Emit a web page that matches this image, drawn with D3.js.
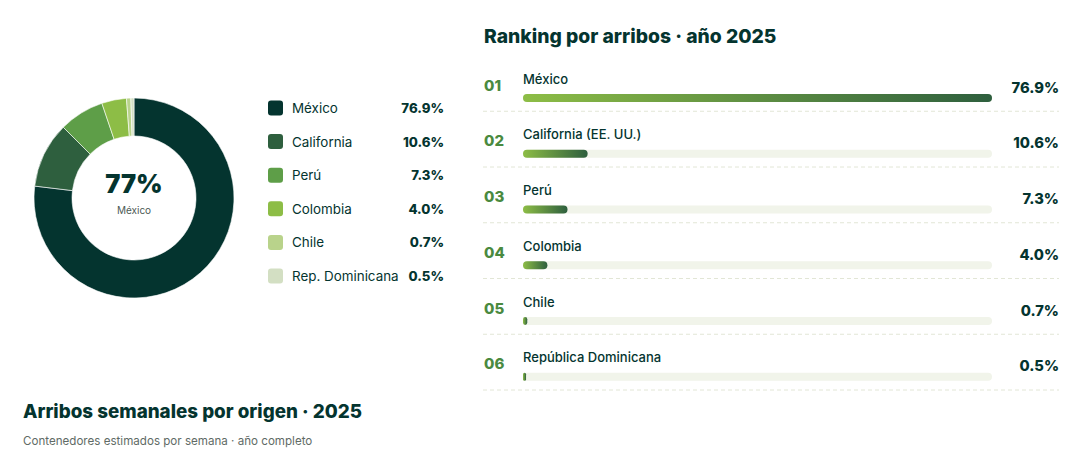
<!DOCTYPE html>
<html>
<head>
<meta charset="utf-8">
<script src="https://cdn.jsdelivr.net/npm/d3@7"></script>
<style>
body { margin: 0; background: #fff; }
svg { display: block; font-family: Inter, "Noto Sans", sans-serif; }
</style>
</head>
<body>
<div id="drawing"></div>
<script>
"use strict"

/**** DATA ****/
let origins = ["México", "California", "Perú", "Colombia", "Chile", "Rep. Dominicana"]
let rankNames = ["México", "California (EE. UU.)", "Perú", "Colombia", "Chile", "República Dominicana"]
let shares = [76.9, 10.6, 7.3, 4.0, 0.7, 0.5]
let sliceColors = ["#04342f", "#2e5f3e", "#5e9e48", "#8dbd46", "#b9d38b", "#d3dfc3"]

/**** CANVAS ****/
let svgWidth = 1092
let svgHeight = 456

let svg = d3.select("#drawing")
.append("svg")
.attr("width", svgWidth)
.attr("height", svgHeight)

let dark = "#04342f"

/**** DONUT ****/
let cx = 134, cy = 198
let pie = d3.pie().sort(null).value(d => d)
let arc = d3.arc().innerRadius(62).outerRadius(100)

let donut = svg.append("g").attr("transform", `translate(${cx},${cy})`)

donut.selectAll("path")
.data(pie(shares))
.join("path")
.attr("d", arc)
.attr("fill", (d, i) => sliceColors[i])
.attr("stroke", "#fff")
.attr("stroke-width", 0.6)

donut.append("text")
.attr("y", -5)
.attr("text-anchor", "middle")
.attr("font-size", 25.5)
.attr("font-weight", 900)
.attr("fill", dark)
.text(Math.round(shares[0]) + "%")

donut.append("text")
.attr("y", 16)
.attr("text-anchor", "middle")
.attr("font-size", 10)
.attr("fill", "#4d5a55")
.text(origins[0])

/**** LEGEND ****/
let legendY = d3.scalePoint()
.domain(origins)
.range([108, 276])

let legend = svg.append("g")

legend.selectAll("rect")
.data(origins)
.join("rect")
.attr("x", 268)
.attr("y", d => legendY(d) - 7.5)
.attr("width", 15)
.attr("height", 15)
.attr("rx", 3)
.attr("fill", (d, i) => sliceColors[i])

legend.selectAll("text.lab")
.data(origins)
.join("text")
.attr("class", "lab")
.attr("x", 292)
.attr("y", d => legendY(d) + 5)
.attr("font-size", 13.4)
.attr("fill", dark)
.text(d => d)

legend.selectAll("text.val")
.data(origins)
.join("text")
.attr("class", "val")
.attr("x", 444)
.attr("y", d => legendY(d) + 5)
.attr("text-anchor", "end")
.attr("font-size", 13.2)
.attr("font-weight", 800)
.attr("fill", dark)
.text((d, i) => shares[i].toFixed(1) + "%")

/**** RANKING ****/
svg.append("text")
.attr("x", 484)
.attr("y", 43)
.attr("font-size", 19.3)
.attr("font-weight", 800)
.attr("fill", dark)
.text("Ranking por arribos · año 2025")

let rowScale = d3.scaleBand()
.domain(rankNames)
.range([55.5, 390])

let barX = d3.scaleLinear()
.domain([0, d3.max(shares)])
.range([523, 992])

let defs = svg.append("defs")
let grad = defs.append("linearGradient")
.attr("id", "barGrad")
.attr("x1", "0%").attr("x2", "100%")
.attr("y1", "0%").attr("y2", "0%")
grad.append("stop").attr("offset", "0%").attr("stop-color", "#8dbd46")
grad.append("stop").attr("offset", "100%").attr("stop-color", "#2e5f3e")

let rows = svg.selectAll("g.row")
.data(rankNames)
.join("g")
.attr("class", "row")
.attr("transform", d => `translate(0,${rowScale(d)})`)

rows.append("text")
.attr("x", 484)
.attr("y", 35)
.attr("font-size", 15)
.attr("font-weight", 800)
.attr("fill", "#4a8a3f")
.text((d, i) => d3.format("02d")(i + 1))

rows.append("text")
.attr("x", 523)
.attr("y", 28)
.attr("font-size", 13)
.attr("font-weight", 500)
.attr("fill", dark)
.text(d => d)

rows.append("rect")
.attr("x", barX(0))
.attr("y", 38.5)
.attr("width", barX(d3.max(shares)) - barX(0))
.attr("height", 8)
.attr("rx", 4)
.attr("fill", "#f1f4ea")

rows.append("rect")
.attr("x", barX(0))
.attr("y", 38.5)
.attr("width", (d, i) => barX(shares[i]) - barX(0))
.attr("height", 8)
.attr("rx", (d, i) => Math.min(4, (barX(shares[i]) - barX(0)) / 2))
.attr("fill", "url(#barGrad)")

rows.append("text")
.attr("x", 1059)
.attr("y", 37)
.attr("text-anchor", "end")
.attr("font-size", 14.7)
.attr("font-weight", 800)
.attr("fill", dark)
.text((d, i) => shares[i].toFixed(1) + "%")

rows.append("line")
.attr("x1", 483)
.attr("x2", 1059)
.attr("y1", rowScale.bandwidth())
.attr("y2", rowScale.bandwidth())
.attr("stroke", "#e2e6d6")
.attr("stroke-dasharray", "4,3")

/**** FOOTER TITLE ****/
svg.append("text")
.attr("x", 23)
.attr("y", 418)
.attr("font-size", 18.8)
.attr("font-weight", 800)
.attr("fill", dark)
.text("Arribos semanales por origen · 2025")

svg.append("text")
.attr("x", 23)
.attr("y", 445)
.attr("font-size", 11.6)
.attr("fill", "#5f6b66")
.text("Contenedores estimados por semana · año completo")
</script>
</body>
</html>
